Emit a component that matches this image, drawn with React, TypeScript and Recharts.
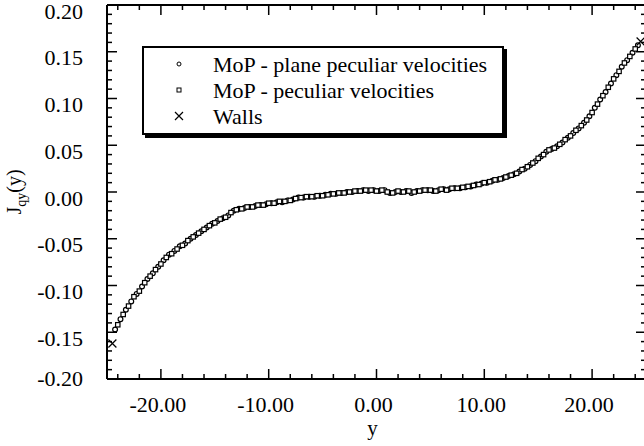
import { ScatterChart, Scatter, XAxis, YAxis, Legend, Label } from "recharts";

// positions (y) and flux values J_qy(y)
const PLANE_POS = [
  -24.25, -23.75, -23.25, -22.75, -22.25, -21.75, -21.25, -20.75, -20.25, -19.75,
  -19.25, -18.75, -18.25, -17.75, -17.25, -16.75, -16.25, -15.75, -15.25, -14.75,
  -14.25, -13.75, -13.25, -12.75, -12.25, -11.75, -11.25, -10.75, -10.25, -9.75,
  -9.25, -8.75, -8.25, -7.75, -7.25, -6.75, -6.25, -5.75, -5.25, -4.75,
  -4.25, -3.75, -3.25, -2.75, -2.25, -1.75, -1.25, -0.75, -0.25, 0.25,
  0.75, 1.25, 1.75, 2.25, 2.75, 3.25, 3.75, 4.25, 4.75, 5.25,
  5.75, 6.25, 6.75, 7.25, 7.75, 8.25, 8.75, 9.25, 9.75, 10.25,
  10.75, 11.25, 11.75, 12.25, 12.75, 13.25, 13.75, 14.25, 14.75, 15.25,
  15.75, 16.25, 16.75, 17.25, 17.75, 18.25, 18.75, 19.25, 19.75, 20.25,
  20.75, 21.25, 21.75, 22.25, 22.75, 23.25, 23.75, 24.25,
];
const PLANE_J = [
  -0.147, -0.136, -0.126, -0.117, -0.109, -0.101, -0.093, -0.087, -0.080, -0.073,
  -0.067, -0.063, -0.058, -0.055, -0.050, -0.046, -0.042, -0.038, -0.034, -0.031,
  -0.028, -0.025, -0.020, -0.018, -0.017, -0.016, -0.015, -0.014, -0.013, -0.012,
  -0.011, -0.011, -0.009, -0.008, -0.006, -0.006, -0.005, -0.005, -0.004, -0.003,
  -0.002, -0.002, -0.001, 0.0, 0.0, 0.001, 0.002, 0.001, 0.002, 0.001,
  0.002, -0.001, 0.0, 0.0, 0.001, -0.001, 0.001, 0.002, 0.002, 0.001,
  0.002, 0.003, 0.003, 0.004, 0.004, 0.005, 0.006, 0.008, 0.009, 0.010,
  0.012, 0.013, 0.015, 0.017, 0.019, 0.022, 0.025, 0.029, 0.033, 0.038,
  0.043, 0.046, 0.049, 0.053, 0.058, 0.063, 0.068, 0.074, 0.081, 0.090,
  0.099, 0.107, 0.116, 0.125, 0.134, 0.141, 0.149, 0.157,
];

const PECULIAR_POS = [
  -24.0, -23.5, -23.0, -22.5, -22.0, -21.5, -21.0, -20.5, -20.0, -19.5,
  -19.0, -18.5, -18.0, -17.5, -17.0, -16.5, -16.0, -15.5, -15.0, -14.5,
  -14.0, -13.5, -13.0, -12.5, -12.0, -11.5, -11.0, -10.5, -10.0, -9.5,
  -9.0, -8.5, -8.0, -7.5, -7.0, -6.5, -6.0, -5.5, -5.0, -4.5,
  -4.0, -3.5, -3.0, -2.5, -2.0, -1.5, -1.0, -0.5, 0.0, 0.5,
  1.0, 1.5, 2.0, 2.5, 3.0, 3.5, 4.0, 4.5, 5.0, 5.5,
  6.0, 6.5, 7.0, 7.5, 8.0, 8.5, 9.0, 9.5, 10.0, 10.5,
  11.0, 11.5, 12.0, 12.5, 13.0, 13.5, 14.0, 14.5, 15.0, 15.5,
  16.0, 16.5, 17.0, 17.5, 18.0, 18.5, 19.0, 19.5, 20.0, 20.5,
  21.0, 21.5, 22.0, 22.5, 23.0, 23.5, 24.0,
];
const PECULIAR_J = [
  -0.142, -0.131, -0.122, -0.112, -0.106, -0.097, -0.090, -0.083, -0.077, -0.070,
  -0.066, -0.061, -0.057, -0.052, -0.048, -0.044, -0.040, -0.036, -0.033, -0.029,
  -0.027, -0.022, -0.019, -0.018, -0.016, -0.016, -0.014, -0.014, -0.012, -0.012,
  -0.010, -0.010, -0.009, -0.007, -0.006, -0.005, -0.005, -0.004, -0.004, -0.003,
  -0.002, -0.001, -0.001, 0.0, 0.001, 0.001, 0.002, 0.002, 0.001, 0.002,
  0.0, -0.001, 0.001, 0.0, 0.001, 0.0, 0.001, 0.002, 0.002, 0.001,
  0.003, 0.002, 0.004, 0.004, 0.005, 0.006, 0.007, 0.008, 0.010, 0.011,
  0.013, 0.014, 0.016, 0.018, 0.020, 0.024, 0.027, 0.031, 0.036, 0.040,
  0.045, 0.047, 0.051, 0.056, 0.060, 0.066, 0.071, 0.077, 0.085, 0.094,
  0.103, 0.112, 0.121, 0.129, 0.138, 0.145, 0.153,
];

const WALL_POS = [-24.5, 24.5];
const WALL_J = [-0.162, 0.161];

const SERIES_NAMES = ["MoP - plane peculiar velocities", "MoP - peculiar velocities", "Walls"];

const Y_LABELED = [-0.2, -0.15, -0.1, -0.05, 0, 0.05, 0.1, 0.15, 0.2];
const X_LABELED = [-20, -10, 0, 10, 20];
const Y_TICKS = Array.from({ length: 41 }, (_, i) => (i - 20) / 100);
const X_TICKS = Array.from({ length: 25 }, (_, i) => -24 + 2 * i);

const FONT = '"Liberation Serif", "Times New Roman", "DejaVu Serif", serif';

const toRows = (pos: number[], j: number[]) => pos.map((p, i) => ({ pos: p, flux: j[i] }));
const planeData = toRows(PLANE_POS, PLANE_J);
const peculiarData = toRows(PECULIAR_POS, PECULIAR_J);
const wallData = toRows(WALL_POS, WALL_J);

const isIn = (list: number[], v: number) => list.some((t) => Math.abs(t - v) < 1e-9);

function LeftTick({ x, y, payload }: any) {
  const major = isIn(Y_LABELED, payload.value);
  const off = payload.value === -0.2 ? -1 : 6;
  return (
    <g>
      <line x1={x} x2={x + (major ? 10 : 5)} y1={y} y2={y} stroke="#000" strokeWidth={1.5} />
      {major && (
        <text x={x - 24} y={y + off} dy="0.35em" textAnchor="end" fontSize={22} style={{ fontFamily: FONT }} fill="#000">
          {payload.value.toFixed(2)}
        </text>
      )}
    </g>
  );
}

function RightTick({ x, y, payload }: any) {
  const major = isIn(Y_LABELED, payload.value);
  return <line x1={x} x2={x - (major ? 10 : 5)} y1={y} y2={y} stroke="#000" strokeWidth={1.5} />;
}

function BottomTick({ x, y, payload }: any) {
  const major = isIn(X_LABELED, payload.value);
  return (
    <g>
      <line x1={x} x2={x} y1={y} y2={y - (major ? 10 : 5)} stroke="#000" strokeWidth={1.5} />
      {major && (
        <text x={x - 3} y={y + 33} textAnchor="middle" fontSize={22} style={{ fontFamily: FONT }} fill="#000">
          {payload.value.toFixed(2)}
        </text>
      )}
    </g>
  );
}

function TopTick({ x, y, payload }: any) {
  const major = isIn(X_LABELED, payload.value);
  return <line x1={x} x2={x} y1={y} y2={y + (major ? 10 : 5)} stroke="#000" strokeWidth={1.5} />;
}

const circleShape = (p: any) => <circle cx={p.cx} cy={p.cy} r={2.4} fill="#fff" stroke="#000" strokeWidth={1.2} />;
const squareShape = (p: any) => <rect x={p.cx - 2.2} y={p.cy - 2.2} width={4.4} height={4.4} fill="#fff" stroke="#000" strokeWidth={1.2} />;
const crossShape = (p: any) => (
  <path d={`M${p.cx - 4},${p.cy - 4}L${p.cx + 4},${p.cy + 4}M${p.cx - 4},${p.cy + 4}L${p.cx + 4},${p.cy - 4}`} stroke="#000" strokeWidth={1.2} fill="none" />
);

function LegendMarker({ index, cx, cy }: { index: number; cx: number; cy: number }) {
  if (index === 0) return <circle cx={cx} cy={cy} r={2} fill="#fff" stroke="#000" strokeWidth={1} />;
  if (index === 1) return <rect x={cx - 2} y={cy - 2} width={4} height={4} fill="#fff" stroke="#000" strokeWidth={1} />;
  return <path d={`M${cx - 4},${cy - 4}L${cx + 4},${cy + 4}M${cx - 4},${cy + 4}L${cx + 4},${cy - 4}`} stroke="#000" strokeWidth={1.2} />;
}

function LegendBox() {
  return (
    <div style={{ width: 362, height: 89, border: "2px solid #000", boxShadow: "3px 3px 0 #000", background: "#fff", boxSizing: "border-box" }}>
      <svg width={358} height={85} style={{ display: "block" }}>
        {SERIES_NAMES.map((n, i) => (
          <g key={n}>
            <LegendMarker index={i} cx={35} cy={16 + 26 * i} />
            <text x={69} y={23.5 + 26 * i} fontSize={22} style={{ fontFamily: FONT }} fill="#000">
              {n}
            </text>
          </g>
        ))}
      </svg>
    </div>
  );
}

const YTitle = ({ viewBox }: any) => {
  const x = viewBox.x + 21;
  const y = viewBox.y + viewBox.height / 2;
  return (
    <text x={x} y={y} transform={`rotate(-90, ${x}, ${y})`} textAnchor="middle" fontSize={20} style={{ fontFamily: FONT }} fill="#000">
      J
      <tspan dy={5} fontSize={14}>qy</tspan>
      <tspan dy={-5}>(y)</tspan>
    </text>
  );
};

const XTitle = ({ viewBox }: any) => (
  <text x={viewBox.x + viewBox.width / 2 - 4} y={viewBox.y + 56} textAnchor="middle" fontSize={21} style={{ fontFamily: FONT }} fill="#000">
    y
  </text>
);

export default function App() {
  const axisLine = { stroke: "#000", strokeWidth: 2 };
  return (
    <div style={{ position: "fixed", left: 0, top: 0, width: 644, height: 446, overflow: "hidden", background: "#fff" }}>
      <ScatterChart width={647} height={446} margin={{ top: 4, right: 0, bottom: 0, left: 0 }}>
        <XAxis xAxisId="b" type="number" dataKey="pos" domain={[-25, 25]} allowDataOverflow ticks={X_TICKS} interval={0}
          orientation="bottom" height={67} tickSize={0} tickMargin={0} tick={<BottomTick />} axisLine={axisLine}>
          <Label content={<XTitle />} />
        </XAxis>
        <XAxis xAxisId="t" type="number" dataKey="pos" domain={[-25, 25]} allowDataOverflow ticks={X_TICKS} interval={0}
          orientation="top" height={1} tickSize={0} tickMargin={0} tick={<TopTick />} axisLine={axisLine} />
        <YAxis yAxisId="l" type="number" dataKey="flux" domain={[-0.2, 0.2]} allowDataOverflow ticks={Y_TICKS} interval={0}
          orientation="left" width={107} tickSize={0} tickMargin={0} tick={<LeftTick />} axisLine={axisLine}>
          <Label content={<YTitle />} />
        </YAxis>
        <YAxis yAxisId="r" type="number" dataKey="flux" domain={[-0.2, 0.2]} allowDataOverflow ticks={Y_TICKS} interval={0}
          orientation="right" width={1} tickSize={0} tickMargin={0} tick={<RightTick />} axisLine={axisLine} />
        <Legend verticalAlign="middle" align="center" layout="horizontal" content={<LegendBox />}
          wrapperStyle={{ left: 142, top: 46, width: 362, height: 89 }} />
        <Scatter name={SERIES_NAMES[0]} data={planeData} xAxisId="b" yAxisId="l" shape={circleShape} isAnimationActive={false} />
        <Scatter name={SERIES_NAMES[1]} data={peculiarData} xAxisId="b" yAxisId="l" shape={squareShape} isAnimationActive={false} />
        <Scatter name={SERIES_NAMES[2]} data={wallData} xAxisId="t" yAxisId="r" shape={crossShape} isAnimationActive={false} />
      </ScatterChart>
    </div>
  );
}
